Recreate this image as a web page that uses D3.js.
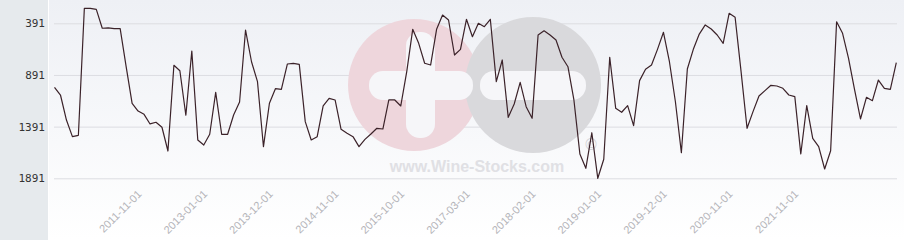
<!DOCTYPE html>
<html>
<head>
<meta charset="utf-8">
<script src="https://cdn.jsdelivr.net/npm/d3@7"></script>
<style>
    html, body { margin: 0; padding: 0; background: #fff; }
    svg { display: block; }
</style>
</head>
<body>
<div id="chart"></div>
<script>
var categories = [
    "2010-09-01", "2010-10-01", "2010-11-01", "2010-12-01", "2011-01-01", "2011-02-01", "2011-03-01", "2011-04-01",
    "2011-05-01", "2011-06-01", "2011-07-01", "2011-08-01", "2011-09-01", "2011-10-01", "2011-11-01", "2011-12-01",
    "2012-01-01", "2012-02-01", "2012-03-01", "2012-05-01", "2012-06-01", "2012-08-01", "2012-09-01", "2012-11-01",
    "2012-12-01", "2013-01-01", "2013-02-01", "2013-03-01", "2013-04-01", "2013-05-01", "2013-06-01", "2013-07-01",
    "2013-08-01", "2013-09-01", "2013-10-01", "2013-11-01", "2013-12-01", "2014-01-01", "2014-02-01", "2014-03-01",
    "2014-04-01", "2014-05-01", "2014-06-01", "2014-07-01", "2014-08-01", "2014-09-01", "2014-10-01", "2014-11-01",
    "2014-12-01", "2015-01-01", "2015-02-01", "2015-03-01", "2015-04-01", "2015-05-01", "2015-06-01", "2015-07-01",
    "2015-08-01", "2015-09-01", "2015-10-01", "2015-12-01", "2016-02-01", "2016-04-01", "2016-06-01", "2016-07-01",
    "2016-08-01", "2016-09-01", "2016-10-01", "2016-12-01", "2017-01-01", "2017-03-01", "2017-04-01", "2017-05-01",
    "2017-06-01", "2017-07-01", "2017-08-01", "2017-09-01", "2017-10-01", "2017-11-01", "2017-12-01", "2018-01-01",
    "2018-02-01", "2018-03-01", "2018-04-01", "2018-05-01", "2018-06-01", "2018-07-01", "2018-08-01", "2018-09-01",
    "2018-10-01", "2018-11-01", "2018-12-01", "2019-01-01", "2019-02-01", "2019-03-01", "2019-04-01", "2019-05-01",
    "2019-06-01", "2019-07-01", "2019-08-01", "2019-09-01", "2019-10-01", "2019-11-01", "2019-12-01", "2020-01-01",
    "2020-02-01", "2020-03-01", "2020-04-01", "2020-05-01", "2020-06-01", "2020-07-01", "2020-08-01", "2020-09-01",
    "2020-10-01", "2020-11-01", "2020-12-01", "2021-01-01", "2021-02-01", "2021-03-01", "2021-04-01", "2021-05-01",
    "2021-06-01", "2021-07-01", "2021-08-01", "2021-10-01", "2021-11-01", "2021-12-01", "2022-01-01", "2022-02-01",
    "2022-03-01", "2022-04-01", "2022-05-01", "2022-06-01", "2022-07-01", "2022-08-01", "2022-09-01", "2022-10-01",
    "2022-11-01", "2022-12-01", "2023-01-01", "2023-02-01", "2023-03-01", "2023-04-01"
];

// rank values (lower = better, so axis is reversed)
var ranks = [
    1010, 1085, 1327, 1488, 1475, 246, 246, 256, 439, 436, 443, 443, 811, 1165, 1240, 1272,
    1365, 1349, 1397, 1627, 797, 850, 1281, 659, 1520, 1569, 1465, 1059, 1465, 1465, 1278, 1153,
    456, 763, 956, 1585, 1165, 1024, 1030, 785, 778, 788, 1343, 1520, 1488, 1191, 1117, 1133,
    1417, 1455, 1488, 1585, 1514, 1462, 1407, 1414, 1133, 1133, 1191, 859, 449, 585, 778, 795,
    449, 311, 359, 698, 643, 352, 521, 391, 424, 352, 956, 746, 1301, 1172, 962, 1198,
    1310, 504, 463, 504, 553, 720, 811, 1133, 1656, 1794, 1450, 1891, 1707, 720, 1214, 1252,
    1188, 1382, 946, 836, 795, 643, 478, 763, 1150, 1643, 833, 643, 495, 407, 446, 504,
    585, 294, 333, 859, 1407, 1246, 1095, 1043, 991, 998, 1020, 1085, 1101, 1656, 1188, 1504,
    1585, 1801, 1624, 376, 488, 730, 1030, 1317, 1107, 1140, 940, 1020, 1030, 772
];

var yTicks = [391, 891, 1391, 1891];

var xLabels = [
    "2011-11-01", "2013-01-01", "2013-12-01", "2014-11-01", "2015-10-01", "2017-03-01",
    "2018-02-01", "2019-01-01", "2019-12-01", "2020-11-01", "2021-11-01"
];

(function(){
    "use strict";

    var width = 904, height = 240;
    var panelWidth = 48;
    var gridLeft = 54, gridRight = 897;

    var svg = d3.select("#chart")
        .append("svg")
        .attr("width", width)
        .attr("height", height);

    var defs = svg.append("defs");
    var grad = defs.append("linearGradient")
        .attr("id", "bgGrad")
        .attr("x1", 0).attr("y1", 0)
        .attr("x2", 0).attr("y2", 1);
    grad.append("stop").attr("offset", "0%").attr("stop-color", "#eef0f5");
    grad.append("stop").attr("offset", "100%").attr("stop-color", "#ffffff");

    svg.append("rect")
        .attr("x", panelWidth + 1)
        .attr("y", 0)
        .attr("width", width - panelWidth - 1)
        .attr("height", height)
        .attr("fill", "url(#bgGrad)");

    svg.append("rect")
        .attr("x", 0)
        .attr("y", 0)
        .attr("width", panelWidth)
        .attr("height", height)
        .attr("fill", "#e6eaed");

    var x = d3.scalePoint()
        .domain(categories)
        .range([54.5, 896.3]);

    var y = d3.scaleLinear()
        .domain([391, 1891])
        .range([23.3, 178.3]);

    // grid lines
    svg.append("g")
        .attr("class", "grid")
        .attr("transform", "translate(" + gridLeft + ",0)")
        .call(d3.axisRight(y).tickValues(yTicks).tickSize(gridRight - gridLeft).tickFormat(""))
        .call(function(g) {
            g.select(".domain").remove();
            g.selectAll("line").attr("stroke", "#dcdde2").attr("stroke-width", 1);
        });

    // watermark
    var wm = svg.append("g").attr("class", "watermark");
    wm.append("circle")
        .attr("cx", 414).attr("cy", 85).attr("r", 66)
        .attr("fill", "#eed6dc");
    wm.append("circle")
        .attr("cx", 533).attr("cy", 85).attr("r", 68)
        .attr("fill", "#d9d9dc");
    wm.append("rect")
        .attr("x", 369).attr("y", 71).attr("width", 104).attr("height", 29).attr("rx", 14)
        .attr("fill", "#f6f6f9");
    wm.append("rect")
        .attr("x", 406).attr("y", 32).attr("width", 29).attr("height", 106).attr("rx", 14)
        .attr("fill", "#f6f6f9");
    wm.append("rect")
        .attr("x", 480).attr("y", 71).attr("width", 106).attr("height", 29).attr("rx", 14)
        .attr("fill", "#f6f6f9");
    wm.append("text")
        .attr("x", 477).attr("y", 172)
        .attr("text-anchor", "middle")
        .attr("font-family", "Liberation Sans, Arial, sans-serif")
        .attr("font-weight", "bold")
        .attr("font-size", 16)
        .attr("fill", "#e0e0e4")
        .text("www.Wine-Stocks.com");
    wm.append("text")
        .attr("x", 591).attr("y", 150)
        .attr("text-anchor", "middle")
        .attr("font-family", "DejaVu Sans, sans-serif")
        .attr("font-size", 15)
        .attr("fill", "#d2d2d6")
        .text("\u00a9");

    // y labels
    svg.append("g")
        .attr("class", "y-axis")
        .attr("transform", "translate(45,0)")
        .call(d3.axisLeft(y).tickValues(yTicks).tickSize(0).tickPadding(0).tickFormat(d3.format("d")))
        .call(function(g) {
            g.select(".domain").remove();
            g.selectAll("text")
                .attr("font-family", "DejaVu Sans Mono, monospace")
                .attr("font-size", 11)
                .attr("fill", "#333");
        });

    // x labels
    svg.append("g")
        .attr("class", "x-axis")
        .attr("transform", "translate(0,192)")
        .call(d3.axisBottom(x).tickValues(xLabels).tickSize(0).tickPadding(0))
        .call(function(g) {
            g.select(".domain").remove();
            g.selectAll("text")
                .attr("y", 0)
                .attr("dy", "0.35em")
                .attr("dx", 0)
                .attr("text-anchor", "end")
                .attr("transform", "translate(1,0) rotate(-45)")
                .attr("font-family", "Liberation Sans, Arial, sans-serif")
                .attr("font-size", 11)
                .attr("fill", "#b4b4b9");
        });

    var line = d3.line()
        .x(function(d, i) { return x(categories[i]); })
        .y(function(d) { return y(d); });

    svg.append("path")
        .datum(ranks)
        .attr("d", line)
        .attr("fill", "none")
        .attr("stroke", "#3b2229")
        .attr("stroke-width", 1.2)
        .attr("stroke-linejoin", "round");
})();
</script>
</body>
</html>
